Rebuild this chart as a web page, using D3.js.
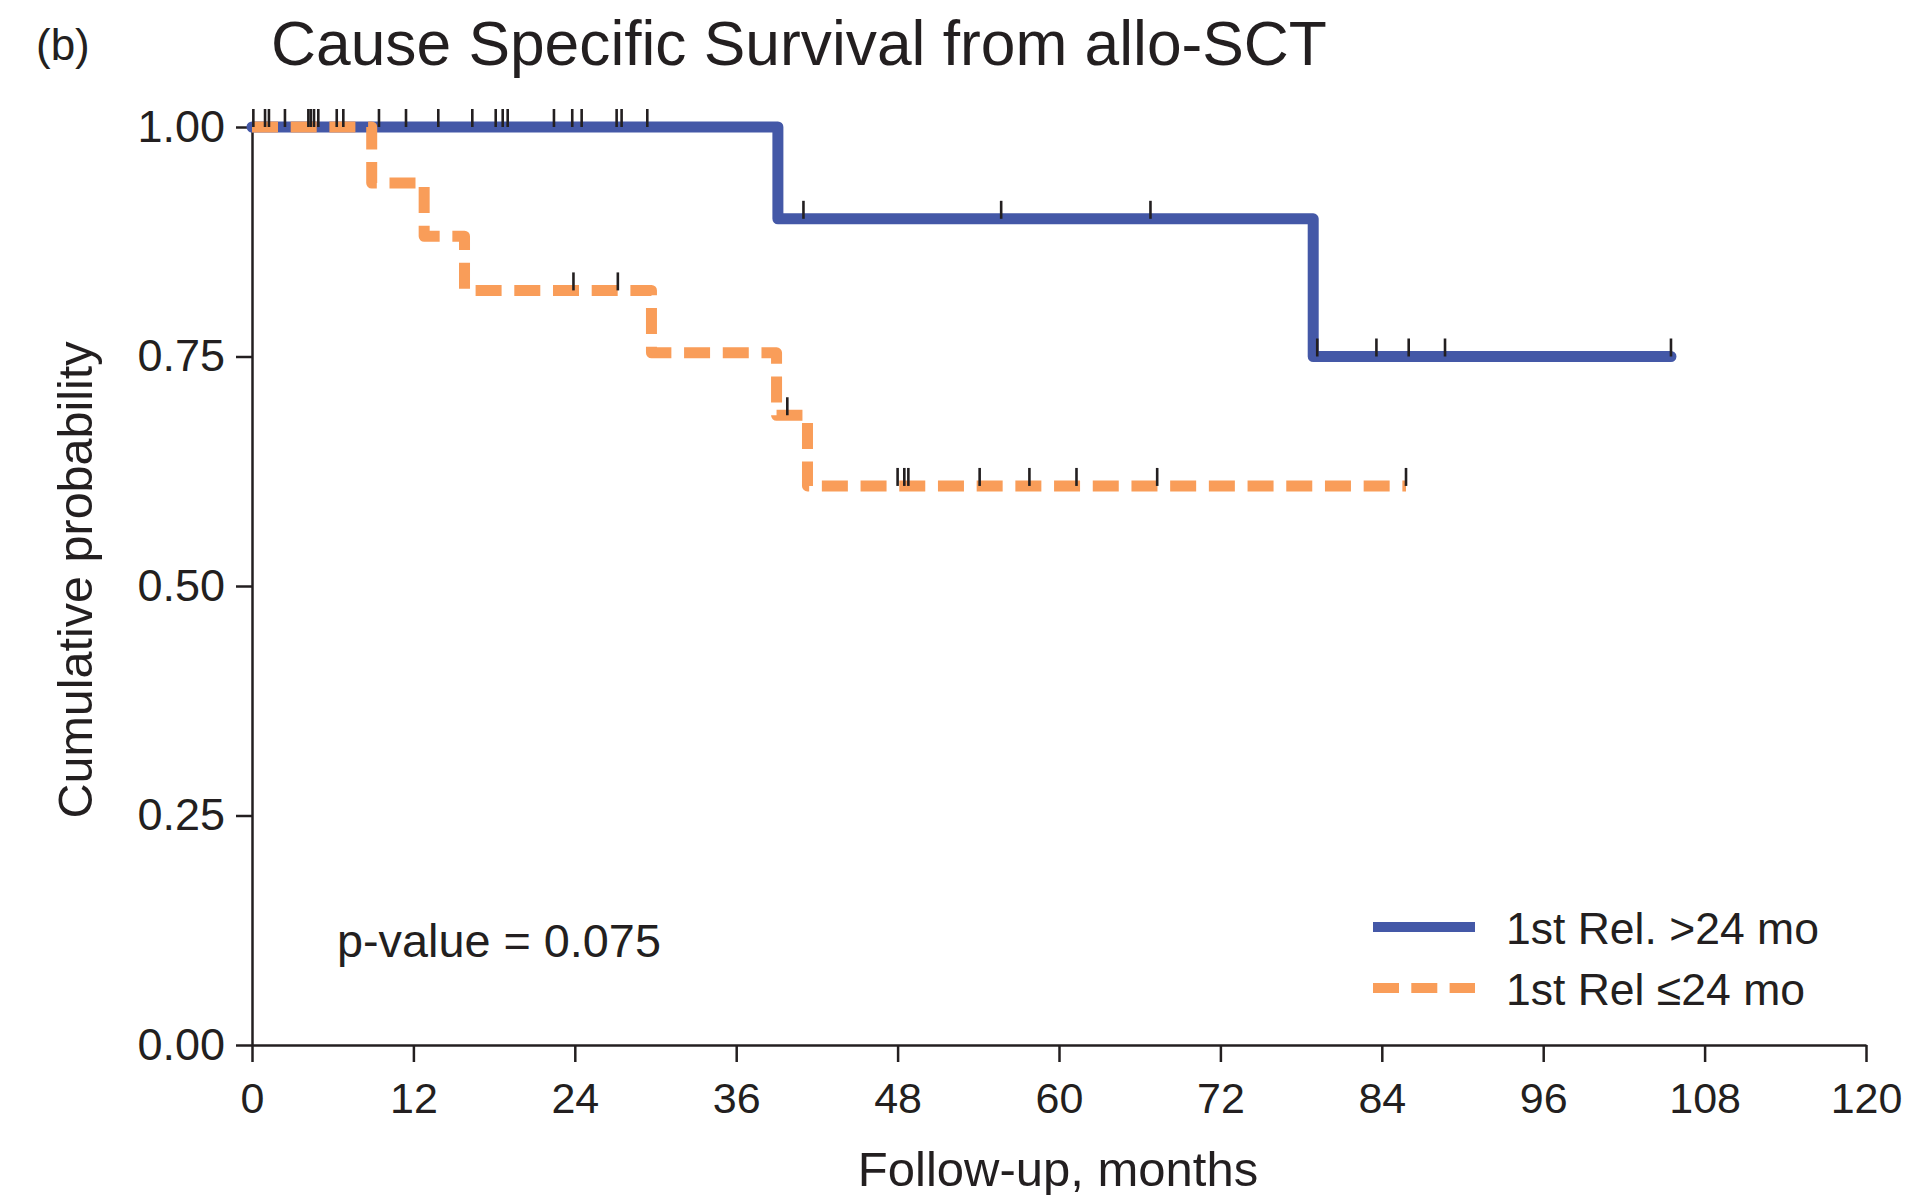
<!DOCTYPE html>
<html>
<head>
<meta charset="utf-8">
<script src="https://cdn.jsdelivr.net/npm/d3@7"></script>
<style>
  html, body { margin: 0; padding: 0; background: #fff; }
  svg { display: block; font-family: "Liberation Sans", Arial, Helvetica, sans-serif; }
</style>
</head>
<body>
<svg id="chart" width="1910" height="1195"></svg>
<script>
// Follow-up axis (months) and probability axis ticks
const monthTicks = [0, 12, 24, 36, 48, 60, 72, 84, 96, 108, 120];
const probTicks = [0, 0.25, 0.5, 0.75, 1];

// Group 1: first relapse > 24 months — step times and survival after each step
const lateTimes = [0, 39.1, 78.9];
const lateSurv = [1, 0.9, 0.75];
const lateEnd = 105.5;
const lateCensor = [0.1, 0.97, 2.45, 4.19, 4.61, 4.93, 6.30, 9.44, 11.45, 13.85, 16.38,
  18.12, 18.64, 19.01, 22.45, 23.81, 24.51, 27.11, 27.48, 29.39,
  41.0, 55.7, 66.8, 79.2, 83.6, 86.0, 88.7, 105.5];

// Group 2: first relapse <= 24 months
const earlyTimes = [0, 8.9, 12.8, 15.8, 29.7, 39.0, 41.3];
const earlySurv = [1, 0.939, 0.881, 0.822, 0.754, 0.686, 0.609];
const earlyEnd = 85.8;
const earlyCensor = [1.26, 4.37, 6.79, 23.9, 27.2, 39.8,
  48.0, 48.5, 48.8, 54.1, 57.8, 61.3, 67.3, 85.8];

const seriesNames = ["1st Rel. >24 mo", "1st Rel \u226424 mo"];
const colors = ["#4458A7", "#F99D59"];
const ink = "#231F20";

const svg = d3.select("#chart");
const x = d3.scaleLinear().domain([0, 120]).range([252, 1866]);
const y = d3.scaleLinear().domain([0, 1]).range([1045, 127]);

function stepPoints(times, surv, end) {
  const pts = times.map((t, i) => [t, surv[i]]);
  pts.push([end, surv[surv.length - 1]]);
  return pts;
}
function survAt(times, surv, t) {
  let s = surv[0];
  times.forEach((tt, i) => { if (tt <= t) s = surv[i]; });
  return s;
}

const line = d3.line().x(d => x(d[0])).y(d => y(d[1])).curve(d3.curveStepAfter);

// Axes
const yAxis = d3.axisLeft(y).tickValues(probTicks).tickFormat(d3.format(".2f"))
  .tickSize(16).tickSizeOuter(0).tickPadding(11);
const xAxis = d3.axisBottom(x).tickValues(monthTicks).tickFormat(d3.format("d"))
  .tickSize(17).tickSizeOuter(0).tickPadding(20);

const gy = svg.append("g").attr("transform", `translate(${x(0)},0)`).call(yAxis);
const gx = svg.append("g").attr("transform", `translate(0,${y(0)})`).call(xAxis);
[gx, gy].forEach(g => {
  g.selectAll("path.domain").attr("stroke", ink).attr("stroke-width", 2.5);
  g.selectAll(".tick line").attr("stroke", ink).attr("stroke-width", 2.5);
  g.selectAll(".tick text").attr("fill", ink).style("font-size", "43px")
    .style("font-family", "'Liberation Sans', Arial, sans-serif");
});
gy.selectAll(".tick text").style("font-size", "45px");

// Survival curves
svg.append("path")
  .datum(stepPoints(lateTimes, lateSurv, lateEnd))
  .attr("d", line)
  .attr("fill", "none").attr("stroke", colors[0]).attr("stroke-width", 11)
  .attr("stroke-linejoin", "round").attr("stroke-linecap", "round");

svg.append("path")
  .datum(stepPoints(earlyTimes, earlySurv, earlyEnd))
  .attr("d", line)
  .attr("fill", "none").attr("stroke", colors[1]).attr("stroke-width", 11)
  .attr("stroke-dasharray", "26 12.7")
  .attr("stroke-linejoin", "round").attr("stroke-linecap", "butt");

// Censoring marks
function censorMarks(times, surv, cens) {
  svg.append("g").selectAll("line").data(cens).join("line")
    .attr("x1", d => x(d)).attr("x2", d => x(d))
    .attr("y1", d => y(survAt(times, surv, d)) - 18)
    .attr("y2", d => y(survAt(times, surv, d)))
    .attr("stroke", ink).attr("stroke-width", 2.6);
}
censorMarks(lateTimes, lateSurv, lateCensor);
censorMarks(earlyTimes, earlySurv, earlyCensor);

// Titles and labels
svg.append("text").attr("x", 36).attr("y", 60).attr("fill", ink)
  .style("font-size", "44px").text("(b)");
svg.append("text").attr("x", 271).attr("y", 65).attr("fill", ink)
  .style("font-size", "62.3px").text("Cause Specific Survival from allo-SCT");
svg.append("text").attr("x", 1058).attr("y", 1186).attr("fill", ink)
  .attr("text-anchor", "middle").style("font-size", "49px").text("Follow-up, months");
svg.append("text").attr("transform", "translate(92,580) rotate(-90)")
  .attr("text-anchor", "middle").attr("fill", ink)
  .style("font-size", "48.5px").text("Cumulative probability");
svg.append("text").attr("x", 337).attr("y", 957).attr("fill", ink)
  .style("font-size", "46.8px").text("p-value = 0.075");

// Legend
const legend = svg.append("g");
const legY = [927, 988];
seriesNames.forEach((name, i) => {
  legend.append("line")
    .attr("x1", 1373).attr("x2", 1475).attr("y1", legY[i]).attr("y2", legY[i])
    .attr("stroke", colors[i]).attr("stroke-width", 10)
    .attr("stroke-dasharray", i === 1 ? "26 12.3" : null);
  legend.append("text").attr("x", 1506).attr("y", legY[i] + 17).attr("fill", ink)
    .style("font-size", "44.5px").text(name);
});
</script>
</body>
</html>
